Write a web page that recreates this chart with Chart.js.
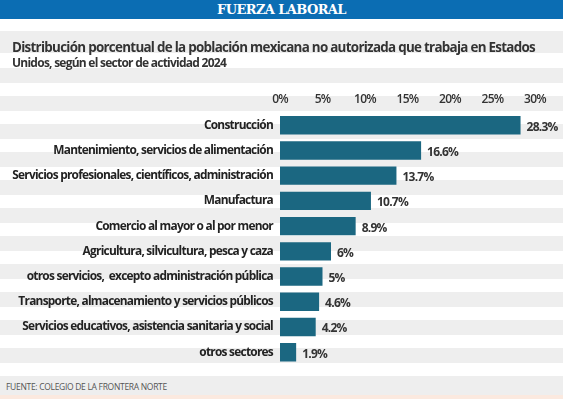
<!DOCTYPE html>
<html>
<head>
<meta charset="utf-8">
<script src="https://cdn.jsdelivr.net/npm/chart.js@4/dist/chart.umd.min.js"></script>
<style>
  html, body { margin: 0; padding: 0; background: #fff; }
  body { width: 563px; height: 399px; position: relative; overflow: hidden; font-family: "Open Sans", sans-serif; }
  .banner { position: absolute; left: 0; top: 0; width: 563px; height: 19px; background: #0b6db3;
    color: #fff; font: bold 13px "DejaVu Serif", serif; text-align: center; line-height: 19px; letter-spacing: -0.6px; }
  .stripes { position: absolute; left: 0; top: 68px; width: 563px; height: 327px;
    background: repeating-linear-gradient(to bottom, #eeeeee 0 15px, #ffffff 15px 28px); }
  .titleband { position: absolute; left: 0; top: 31px; width: 563px; height: 22px; background: #eeeeee; }
  .footband { position: absolute; left: 0; top: 376px; width: 563px; height: 19px; background: #eeeeee; }
  .pink { position: absolute; left: 0; top: 395px; width: 563px; height: 4px; background: #fbe9df; }
  .source { position: absolute; left: 6px; top: 381px; font: 8.5px "Open Sans", sans-serif; color: #555; letter-spacing: -0.3px; }
  .wrap { position: absolute; left: 0; top: 19px; width: 563px; height: 360px; }
</style>
</head>
<body>
<div class="banner">FUERZA LABORAL</div>
<div class="titleband"></div>
<div class="stripes"></div>
<div class="footband"></div>
<div class="pink"></div>
<div class="source">FUENTE: COLEGIO DE LA FRONTERA NORTE</div>
<div class="wrap"><canvas id="chart"></canvas></div>
<script>
// Sectors and their share of the workforce
const categories = [
  'Construcción',
  'Mantenimiento, servicios de alimentación',
  'Servicios profesionales, científicos, administración',
  'Manufactura',
  'Comercio al mayor o al por menor',
  'Agricultura, silvicultura, pesca y caza',
  'otros servicios,  excepto administración pública',
  'Transporte, almacenamiento y servicios públicos',
  'Servicios educativos, asistencia sanitaria y social',
  'otros sectores'
];
const values = [28.3, 16.6, 13.7, 10.7, 8.9, 6, 5, 4.6, 4.2, 1.9];
const valueLabels = ['28.3%', '16.6%', '13.7%', '10.7%', '8.9%', '6%', '5%', '4.6%', '4.2%', '1.9%'];
const xTicks = [0, 5, 10, 15, 20, 25, 30];

const titleText = 'Distribución porcentual de la población mexicana no autorizada que trabaja en Estados';
const subtitleText = 'Unidos, según el sector de actividad 2024';

// Tighter letter spacing, the source font is a condensed one
const tightText = {
  id: 'tightText',
  beforeUpdate(chart) { chart.ctx.letterSpacing = '-0.75px'; },
  beforeDraw(chart) { chart.ctx.letterSpacing = '-0.75px'; }
};

// Draws the value label at the end of each bar
const barValues = {
  id: 'barValues',
  afterDatasetsDraw(chart) {
    const ctx = chart.ctx;
    const meta = chart.getDatasetMeta(0);
    ctx.save();
    ctx.font = 'bold 12px "Open Sans", sans-serif';
    ctx.fillStyle = '#333';
    ctx.textBaseline = 'middle';
    ctx.textAlign = 'left';
    meta.data.forEach((bar, i) => {
      ctx.fillText(valueLabels[i], bar.x + 6, bar.y + 2);
    });
    ctx.restore();
  }
};

const ctx = document.getElementById('chart').getContext('2d');
new Chart(ctx, {
  type: 'bar',
  data: {
    labels: categories,
    datasets: [{
      data: values,
      backgroundColor: '#1b6781',
      barPercentage: 0.73,
      categoryPercentage: 1
    }]
  },
  options: {
    indexAxis: 'y',
    responsive: true,
    maintainAspectRatio: false,
    animation: false,
    layout: { padding: { left: 12, right: 28, top: 0, bottom: 14 } },
    plugins: {
      legend: { display: false },
      tooltip: { enabled: false },
      title: {
        display: true,
        text: titleText,
        align: 'start',
        color: '#333',
        font: { family: 'Open Sans', size: 14, weight: 'bold' },
        padding: { top: 21, bottom: 0 }
      },
      subtitle: {
        display: true,
        text: subtitleText,
        align: 'start',
        color: '#333',
        font: { family: 'Open Sans', size: 12, weight: 'bold' },
        padding: { top: 0, bottom: 15 }
      }
    },
    scales: {
      x: {
        position: 'top',
        min: 0,
        max: 30,
        afterBuildTicks(scale) {
          scale.ticks = xTicks.map(v => ({ value: v }));
        },
        ticks: {
          color: '#333',
          padding: 6,
          font: { family: 'Open Sans', size: 12, weight: '600' },
          callback: v => v + '%'
        },
        grid: { display: false, drawTicks: false, tickLength: 0 },
        border: { display: false }
      },
      y: {
        afterFit(scale) { scale.width = 268; },
        ticks: {
          color: '#222',
          padding: 7,
          font: { family: 'Open Sans', size: 11.9, weight: 'bold' }
        },
        grid: { display: false, drawTicks: false, tickLength: 0 },
        border: { display: false }
      }
    }
  },
  plugins: [tightText, barValues]
});
</script>
</body>
</html>
